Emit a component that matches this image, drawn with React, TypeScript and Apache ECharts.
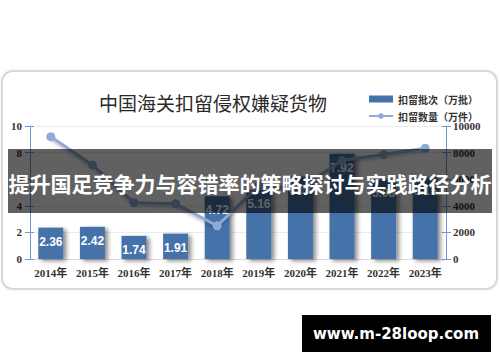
import React, { useEffect, useRef } from "react";
import * as echarts from "echarts";

const years = ["2014年", "2015年", "2016年", "2017年", "2018年", "2019年", "2020年", "2021年", "2022年", "2023年"];
const batches = [2.36, 2.42, 1.74, 1.91, 4.72, 5.16, 6.21, 7.92, 5.98, 6.15];
const quantities = [9200, 7070, 4230, 4150, 2500, 5500, 5300, 7400, 7850, 8330];
const titleText = "中国海关扣留侵权嫌疑货物";
const barName = "扣留批次（万批）";
const lineName = "扣留数量（万件）";
const bannerText = "提升国足竞争力与容错率的策略探讨与实践路径分析";
const watermarkText = "www.m-28loop.com";

const BAR = "#4572a8";
const LINE = "#8eaad6";
const AXIS = "#6f97d2";
const SERIF = "'Liberation Serif', 'Noto Sans CJK SC', serif";

export default function App() {
  const ref = useRef<HTMLDivElement>(null);
  useEffect(() => {
    document.body.style.margin = "0";
    const chart = echarts.init(ref.current!, null, { renderer: "svg" });
    const tickAxis = (pos: "left" | "right", max: number, interval: number) => ({
      type: "value",
      position: pos,
      min: 0,
      max,
      interval,
      axisLine: { show: false },
      axisTick: { show: true, inside: true, length: 4, lineStyle: { color: AXIS, width: 1 } },
      axisLabel: { show: false },
      splitLine: { show: false },
    });
    chart.setOption({
      animation: false,
      backgroundColor: "#ffffff",
      title: {
        text: titleText,
        left: 94,
        top: 88,
        textStyle: { fontSize: 19, fontWeight: "normal", color: "#2a2a2a", fontFamily: "'Noto Sans CJK SC', serif" },
      },
      legend: {
        orient: "vertical",
        left: 363,
        top: 89,
        itemWidth: 24,
        itemHeight: 7,
        itemGap: 7,
        textStyle: { fontSize: 10, fontWeight: "bold", color: "#333", fontFamily: "'Noto Sans CJK SC', serif" },
        data: [
          { name: barName, icon: "rect" },
          { name: lineName },
        ],
      },
      grid: { left: 30, right: 54, top: 126, bottom: 103, containLabel: false },
      xAxis: {
        type: "category",
        data: years,
        axisLine: { show: true, lineStyle: { color: "#d9d9d9" } },
        axisTick: { show: false },
        axisLabel: { interval: 0, fontSize: 11, fontWeight: "bold", color: "#333", fontFamily: SERIF, margin: 8 },
      },
      yAxis: [
        {
          type: "value",
          position: "left",
          min: 0,
          max: 10,
          interval: 2,
          axisLine: { show: true, lineStyle: { color: AXIS, width: 1 } },
          axisTick: { show: true, length: 5, lineStyle: { color: AXIS } },
          axisLabel: { fontSize: 11, fontWeight: "bold", color: "#333", fontFamily: SERIF, margin: 8 },
          splitLine: { show: true, lineStyle: { color: "#ececec", width: 1 } },
        },
        {
          type: "value",
          position: "right",
          min: 0,
          max: 10000,
          interval: 2000,
          axisLine: { show: true, lineStyle: { color: AXIS, width: 1 } },
          axisTick: { show: true, length: 5, lineStyle: { color: AXIS } },
          axisLabel: {
            fontSize: 11,
            fontWeight: "bold",
            color: "#333",
            fontFamily: SERIF,
            margin: 7,
            formatter: (v: number) => String(v),
          },
          splitLine: { show: false },
        },
        tickAxis("left", 10, 2),
        tickAxis("right", 10000, 2000),
      ],
      series: [
        {
          name: barName,
          type: "bar",
          yAxisIndex: 0,
          data: batches,
          barWidth: 25,
          itemStyle: {
            color: BAR,
            shadowColor: "rgba(0,0,0,0.45)",
            shadowBlur: 4,
            shadowOffsetX: 3,
            shadowOffsetY: 2,
          },
          label: {
            show: true,
            position: "insideTop",
            distance: 8,
            color: "#ffffff",
            fontSize: 12,
            fontWeight: "bold",
            fontFamily: "'Liberation Sans', sans-serif",
            formatter: (p: any) => p.value.toFixed(2),
          },
          z: 2,
        },
        {
          name: lineName,
          type: "line",
          yAxisIndex: 1,
          data: quantities,
          symbol: "circle",
          symbolSize: 9,
          lineStyle: { color: LINE, width: 3, shadowColor: "rgba(0,0,0,0.25)", shadowBlur: 3, shadowOffsetY: 2 },
          itemStyle: { color: LINE },
          z: 3,
        },
      ],
      graphic: [
        {
          type: "rect",
          z: -10,
          shape: { x: 2, y: 71, width: 495, height: 218, r: 11 },
          style: { fill: "#ffffff", stroke: "#d8d8d8", lineWidth: 2, shadowColor: "rgba(0,0,0,0.08)", shadowBlur: 3 },
        },
        {
          type: "rect",
          z: 100,
          shape: { x: 8, y: 149, width: 484, height: 64 },
          style: { fill: "rgba(0,0,0,0.62)" },
        },
        {
          type: "text",
          z: 101,
          x: 250,
          y: 183,
          style: {
            text: bannerText,
            fill: "#ffffff",
            fontSize: 21,
            fontWeight: "bold",
            fontFamily: "'Noto Sans CJK SC', sans-serif",
            align: "center",
            verticalAlign: "middle",
          },
        },
        {
          type: "rect",
          z: 100,
          shape: { x: 302, y: 315, width: 189, height: 37 },
          style: { fill: "#000000" },
        },
        {
          type: "text",
          z: 101,
          x: 396,
          y: 334,
          style: {
            text: watermarkText,
            fill: "#ffffff",
            fontSize: 15,
            fontWeight: "bold",
            fontFamily: "'DejaVu Sans', sans-serif",
            align: "center",
            verticalAlign: "middle",
          },
        },
      ],
    });
    return () => chart.dispose();
  }, []);
  return <div ref={ref} style={{ width: 500, height: 362 }} />;
}
